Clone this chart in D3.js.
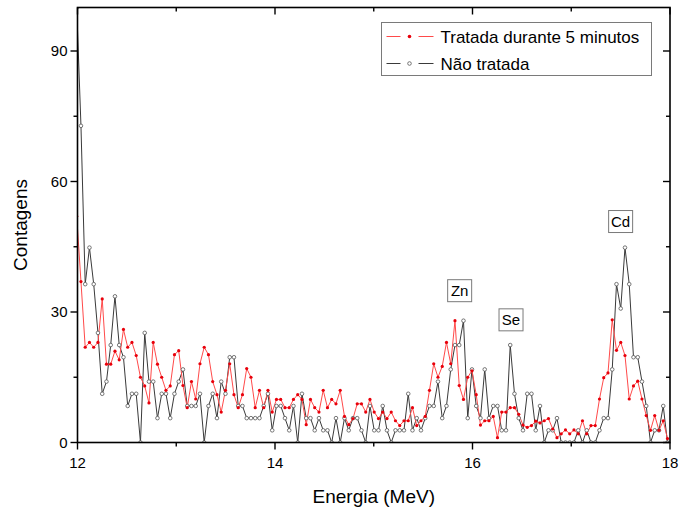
<html>
<head>
<style>
  body { margin: 0; background: #fff; font-family: "Liberation Sans", Arial, sans-serif; }
  svg { display: block; }
  .tick-label { font-size: 15px; fill: #000; }
  .axis-title { font-size: 19px; fill: #000; }
  .note { font-size: 15px; fill: #000; }
  .legend-text { font-size: 17px; fill: #000; }
</style>
<script src="https://cdn.jsdelivr.net/npm/d3@7"></script>
</head>
<body>
<div class="chart"></div>
<script type="text/javascript">

// channel calibration (first channel sits just left of 12 MeV and gets clipped)
var channelStart = 11.992;
var channelWidth = 0.04304;

// counts, "Tratada durante 5 minutos"
var tratada = [52,
  37, 21.9, 23, 21.9, 23, 33, 18, 18, 21, 19,
  26, 21.9, 23, 20, 15, 13, 9.1, 23, 18, 15,
  12, 13, 20.2, 21.1, 13.1, 8, 14, 10, 18.1, 21.9,
  20.2, 14, 11, 7, 12, 18.1, 11, 8, 11, 17,
  15, 8, 12, 8, 12, 7, 9.9, 9.9, 8, 8,
  9.9, 11, 9.9, 4.1, 9.9, 8, 7, 12, 8, 9.9,
  8.9, 12, 6, 4.1, 5.5, 8.9, 8.9, 7, 9.9, 7,
  5.5, 7, 5.5, 7, 5, 3.9, 5, 5, 8, 3.9,
  5, 6, 12, 18.1, 15, 17.5, 23, 18.1, 28, 13.1,
  9.9, 15, 16.5, 11, 4, 5, 5, 6, 1.1, 7,
  7, 8, 8, 6.5, 4, 3.5, 3.9, 4.9, 4.5, 5,
  5.5, 3.1, 1.1, 2, 2.9, 2, 2.9, 2, 5, 2,
  3.9, 3.9, 10, 14.9, 16, 28.2, 21.2, 23, 20, 10,
  13, 14.1, 10, 6.2, 2.8, 6.2, 2.8, 5, 0.9];

// counts, "Não tratada"
var naoTratada = [100,
  72.8, 36.4, 44.8, 36.4, 25.2, 11.2, 14, 22.4, 33.6, 22.4,
  19.6, 8.4, 11.2, 11.2, 0, 25.2, 14, 14, 5.6, 11.2,
  11.2, 5.6, 11.2, 14, 16.8, 8.4, 8.4, 8.4, 11.2, 0,
  8.4, 11.2, 5.6, 14, 11.2, 19.6, 19.6, 8.4, 8.4, 5.6,
  5.6, 5.6, 5.6, 8.4, 11.2, 2.8, 8.4, 8.4, 5.6, 2.8,
  8.4, 0, 11.2, 5.6, 5.6, 2.8, 5.6, 2.8, 2.8, 0,
  5.6, 0, 5.6, 2.8, 5.6, 5.6, 2.8, 0, 8.4, 2.8,
  2.8, 8.4, 2.8, 0, 2.8, 2.8, 2.8, 11.2, 2.8, 5.6,
  2.8, 5.6, 8.4, 8.4, 14, 5.6, 8.4, 16.8, 22.4, 22.4,
  28, 5.6, 16.8, 8.4, 5.6, 16.8, 5.6, 8.4, 8.4, 2.8,
  2.8, 22.4, 11.2, 5.6, 2.8, 11.2, 11.2, 2.8, 8.4, 0,
  2.8, 2.8, 5.6, 0, 0, 0, 0, 2.8, 0, 2.8,
  0, 0, 2.8, 5.6, 5.6, 16.8, 36.4, 30.8, 44.8, 36.4,
  19.6, 19.6, 14, 8.4, 0, 2.8, 2.8, 8.4, 0];

var seriesNames = ["Tratada durante 5 minutos", "Não tratada"];

var xTicks = [12, 13, 14, 15, 16, 17, 18];
var xLabels = [12, 14, 16, 18];
var yTicks = [0, 15, 30, 45, 60, 75, 90];
var yLabels = [0, 30, 60, 90];

// peak labels: element, energy, counts
var peakNames = ["Zn", "Se", "Cd"];
var peakEnergy = [15.87, 16.39, 17.50];
var peakCounts = [34.9, 28.2, 50.8];

var W = 679, H = 514;
var pLeft = 77.5, pRight = 670, pTop = 7.5, pBottom = 442.5;

var x = d3.scaleLinear().domain([12, 18]).range([pLeft, pRight]);
var y = d3.scaleLinear().domain([0, 100]).range([pBottom, pTop]);

var svg = d3.select(".chart").append("svg")
  .attr("width", W)
  .attr("height", H);

svg.append("clipPath").attr("id", "plot-clip")
  .append("rect")
  .attr("x", pLeft).attr("y", pTop)
  .attr("width", pRight - pLeft).attr("height", pBottom - pTop);

function toPoints(values) {
  return values.map(function (v, i) {
    return { e: channelStart + i * channelWidth, c: v };
  });
}

var line = d3.line()
  .x(function (d) { return x(d.e); })
  .y(function (d) { return y(d.c); });

var plot = svg.append("g").attr("clip-path", "url(#plot-clip)");

//---------------------------------------------------------
// Não tratada : dark line, open circles
var ptsN = toPoints(naoTratada);
plot.append("path")
  .datum(ptsN)
  .attr("fill", "none")
  .attr("stroke", "#3a3a3a")
  .attr("stroke-width", 1)
  .attr("d", line);

//---------------------------------------------------------
// Tratada : red line, filled dots
var ptsT = toPoints(tratada);
plot.append("path")
  .datum(ptsT)
  .attr("fill", "none")
  .attr("stroke", "#ff4a4a")
  .attr("stroke-width", 1)
  .attr("d", line);

plot.selectAll("circle.n")
  .data(ptsN)
  .enter().append("circle")
  .attr("class", "n")
  .attr("cx", function (d) { return x(d.e); })
  .attr("cy", function (d) { return y(d.c); })
  .attr("r", 1.8)
  .attr("fill", "#fff")
  .attr("stroke", "#555")
  .attr("stroke-width", 0.8);

plot.selectAll("circle.t")
  .data(ptsT)
  .enter().append("circle")
  .attr("class", "t")
  .attr("cx", function (d) { return x(d.e); })
  .attr("cy", function (d) { return y(d.c); })
  .attr("r", 1.6)
  .attr("fill", "#e8000b");

//---------------------------------------------------------
// frame and ticks
function isMajor(v, list) { return list.indexOf(v) != -1; }

svg.append("rect")
  .attr("x", pLeft).attr("y", pTop)
  .attr("width", pRight - pLeft).attr("height", pBottom - pTop)
  .attr("fill", "none")
  .attr("stroke", "#000")
  .attr("stroke-width", 1.6);

var ticks = svg.append("g").attr("stroke", "#000").attr("stroke-width", 1.4);

xTicks.forEach(function (t) {
  var len = isMajor(t, xLabels) ? 7 : 4;
  ticks.append("line").attr("x1", x(t)).attr("x2", x(t)).attr("y1", pBottom).attr("y2", pBottom + len);
  ticks.append("line").attr("x1", x(t)).attr("x2", x(t)).attr("y1", pTop).attr("y2", pTop + len);
});
yTicks.forEach(function (t) {
  var len = isMajor(t, yLabels) ? 7 : 4;
  ticks.append("line").attr("x1", pLeft - len).attr("x2", pLeft).attr("y1", y(t)).attr("y2", y(t));
  ticks.append("line").attr("x1", pRight - len).attr("x2", pRight).attr("y1", y(t)).attr("y2", y(t));
});

svg.selectAll("text.xl")
  .data(xLabels)
  .enter().append("text")
  .attr("class", "tick-label")
  .attr("x", function (d) { return x(d); })
  .attr("y", pBottom + 25)
  .attr("text-anchor", "middle")
  .text(function (d) { return d; });

svg.selectAll("text.yl")
  .data(yLabels)
  .enter().append("text")
  .attr("class", "tick-label")
  .attr("x", pLeft - 10)
  .attr("y", function (d) { return y(d); })
  .attr("dy", "0.35em")
  .attr("text-anchor", "end")
  .text(function (d) { return d; });

svg.append("text")
  .attr("class", "axis-title")
  .attr("x", (pLeft + pRight) / 2)
  .attr("y", 503)
  .attr("text-anchor", "middle")
  .text("Energia (MeV)");

svg.append("text")
  .attr("class", "axis-title")
  .attr("transform", "translate(27," + ((pTop + pBottom) / 2) + ") rotate(-90)")
  .attr("text-anchor", "middle")
  .text("Contagens");

//---------------------------------------------------------
// peak labels in boxes
peakNames.forEach(function (name, i) {
  var g = svg.append("g")
    .attr("transform", "translate(" + x(peakEnergy[i]) + "," + y(peakCounts[i]) + ")");
  g.append("rect")
    .attr("x", -12).attr("y", -11)
    .attr("width", 24).attr("height", 22)
    .attr("fill", "#fff")
    .attr("stroke", "#7a7a7a")
    .attr("stroke-width", 1);
  g.append("text")
    .attr("class", "note")
    .attr("text-anchor", "middle")
    .attr("dy", "0.36em")
    .text(name);
});

//---------------------------------------------------------
// legend
var legend = svg.append("g").attr("transform", "translate(381.5,22.5)");
legend.append("rect")
  .attr("width", 270).attr("height", 53)
  .attr("fill", "#fff")
  .attr("stroke", "#7a7a7a")
  .attr("stroke-width", 1);

var legendColors = ["#ff4a4a", "#3a3a3a"];
seriesNames.forEach(function (name, i) {
  var ly = 14 + i * 27;
  var row = legend.append("g").attr("transform", "translate(0," + ly + ")");
  row.append("line").attr("x1", 5).attr("x2", 19).attr("y1", 0).attr("y2", 0)
    .attr("stroke", legendColors[i]).attr("stroke-width", 1);
  row.append("line").attr("x1", 37).attr("x2", 52).attr("y1", 0).attr("y2", 0)
    .attr("stroke", legendColors[i]).attr("stroke-width", 1);
  if (i == 0) {
    row.append("circle").attr("cx", 28).attr("cy", 0).attr("r", 1.8).attr("fill", "#e8000b");
  } else {
    row.append("circle").attr("cx", 28).attr("cy", 0).attr("r", 1.8)
      .attr("fill", "#fff").attr("stroke", "#555").attr("stroke-width", 0.8);
  }
  row.append("text")
    .attr("class", "legend-text")
    .attr("x", 59)
    .attr("dy", "0.36em")
    .text(name);
});

</script>
</body>
</html>
